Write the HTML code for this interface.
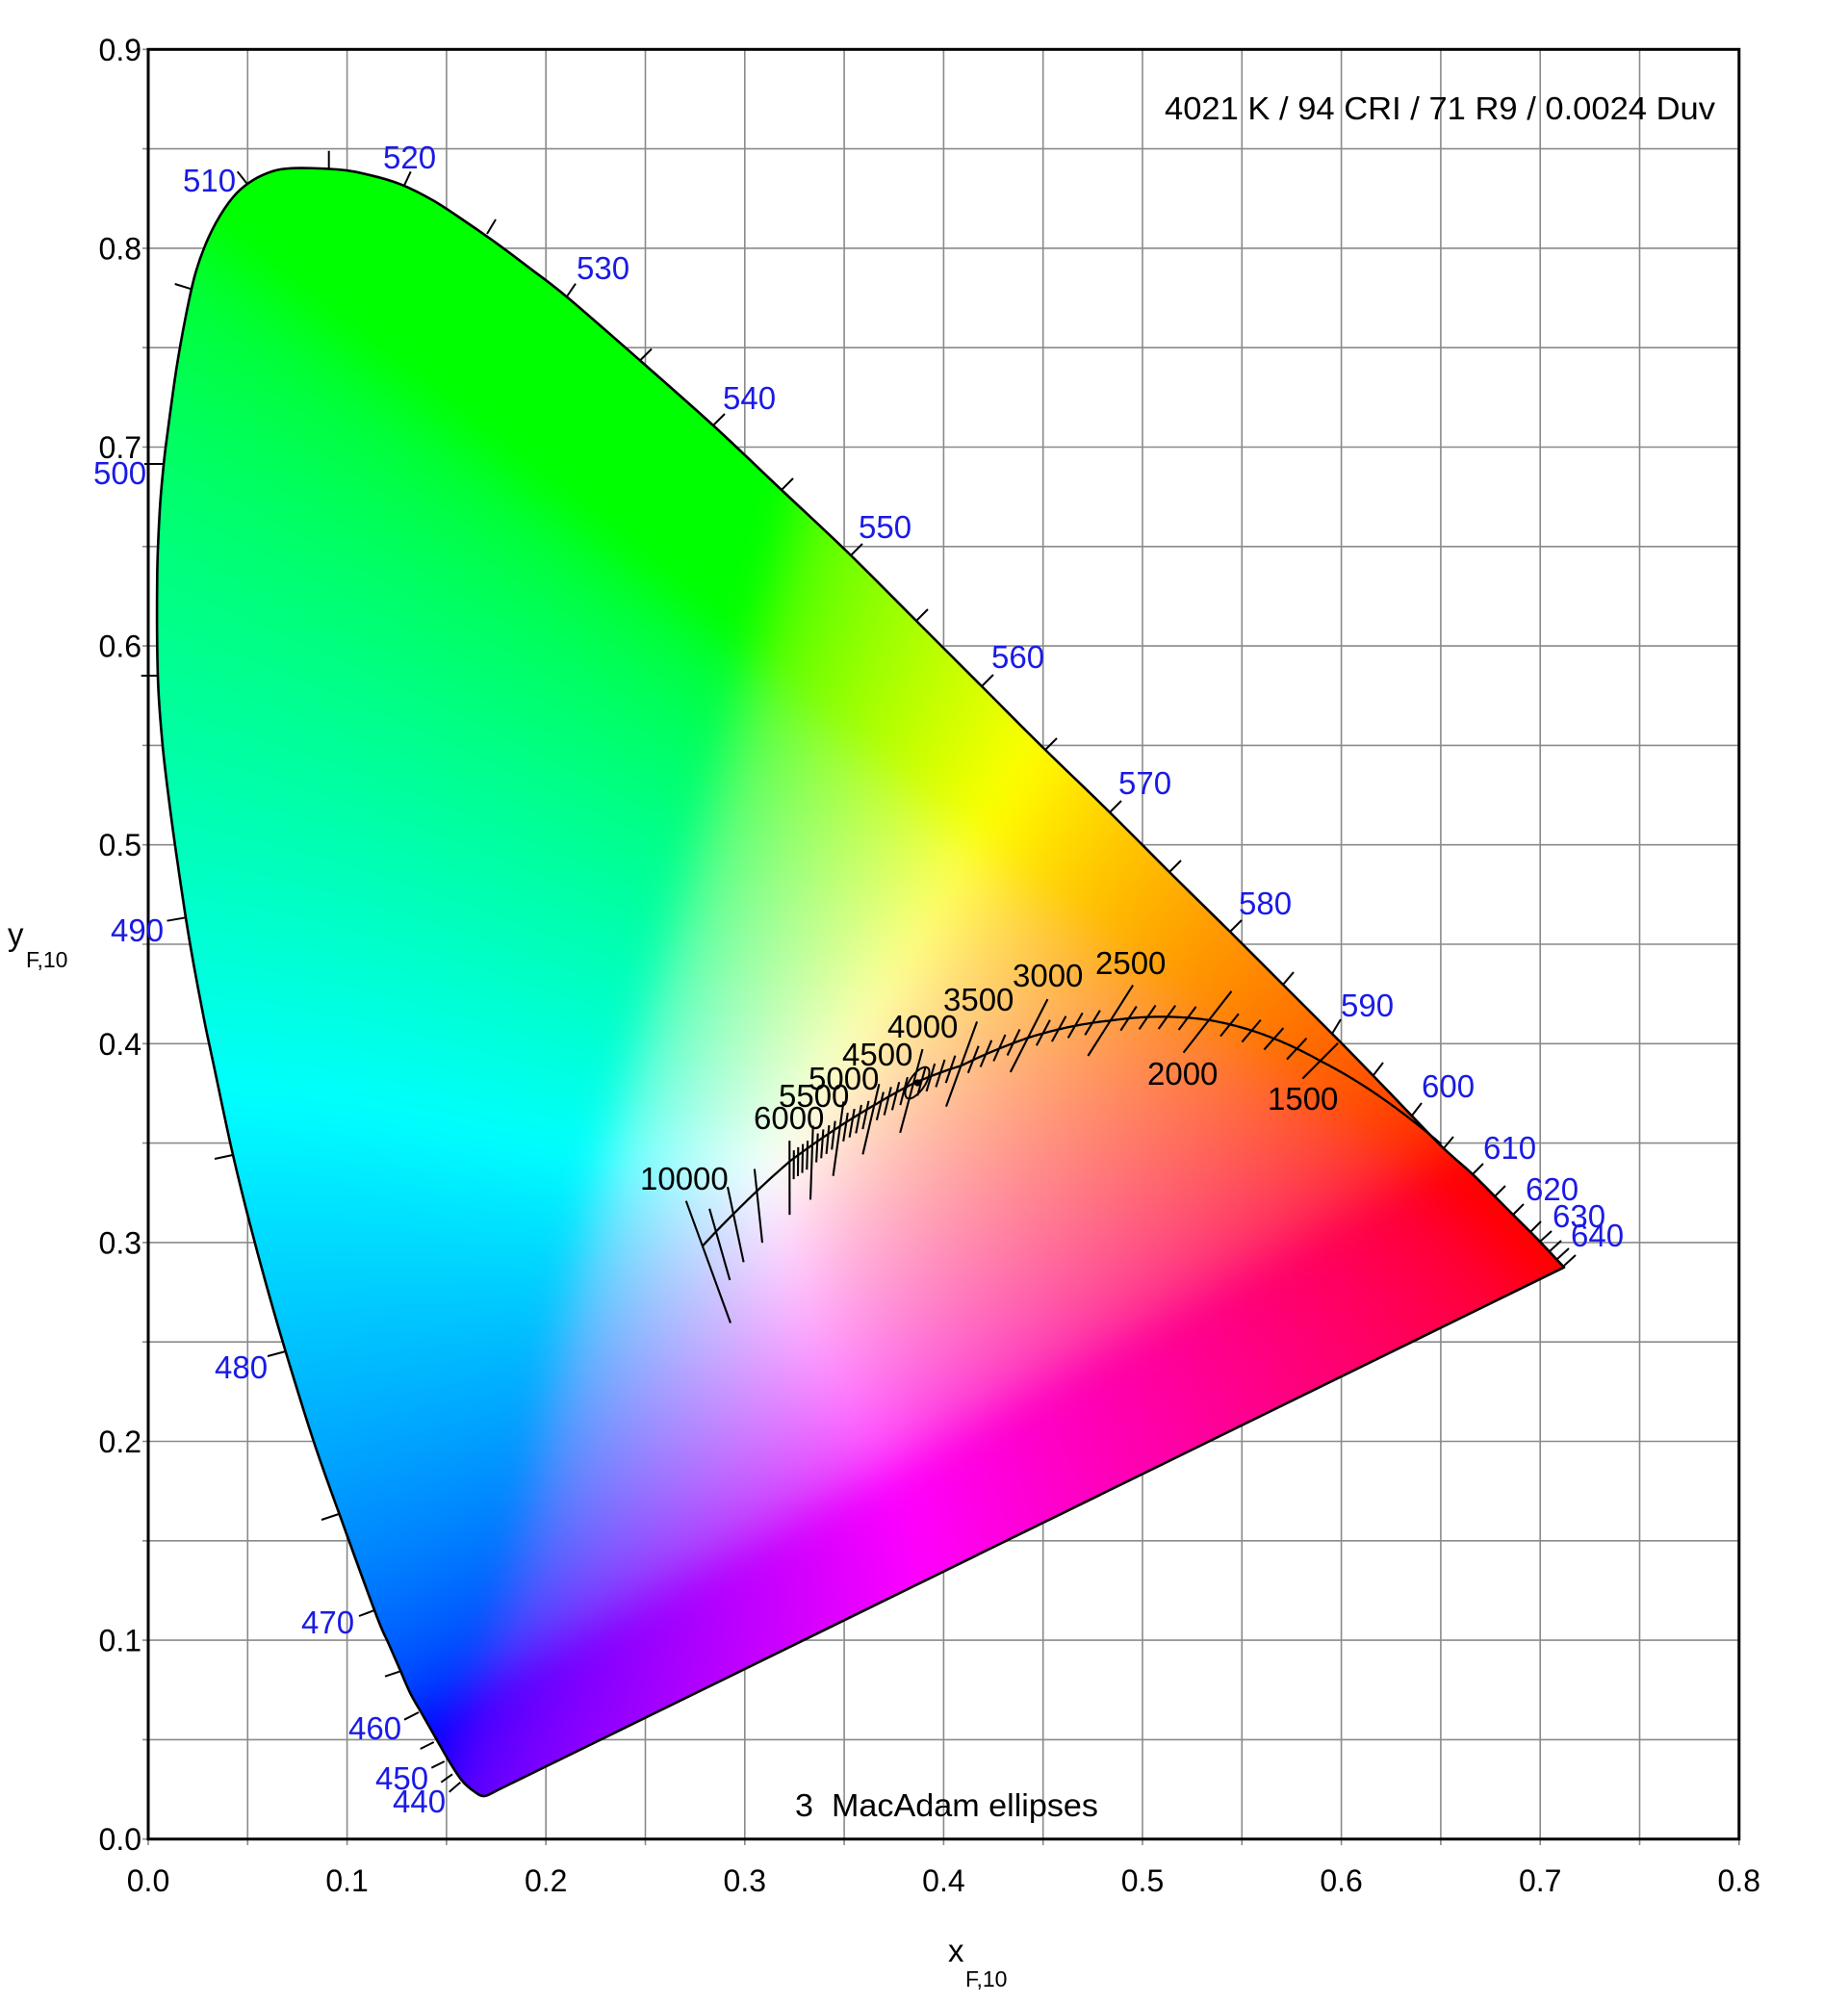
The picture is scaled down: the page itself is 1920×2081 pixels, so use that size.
<!DOCTYPE html>
<html><head><meta charset="utf-8">
<style>
html,body{margin:0;padding:0;background:#fff;}
body{width:1920px;height:2081px;position:relative;overflow:hidden;}
svg,canvas{position:absolute;left:0;top:0;}
text{font-family:"Liberation Sans",Arial,sans-serif;}
.bl{fill:#1a1ae6;font-size:33px;}
.bk{fill:#000;font-size:33px;}
.tk{fill:#000;font-size:32px;}
</style></head>
<body>
<svg id="bg" width="1920" height="2081" viewBox="0 0 1920 2081">
<defs>
<clipPath id="cp"><polygon points="516.7,1860 503.3,1866 493.3,1861.7 480,1850 466.7,1830 453.3,1806.7 440,1783.3 426.7,1760 415,1733.3 403.3,1706.7 391.7,1680 358,1588 326.7,1500 296.7,1404 276.7,1335 256.7,1260 240,1191 221.7,1105 212,1059 201.2,1002 192.9,953 181.7,877 175.4,830 168.7,772 164,703 163.3,600 166,530 170,483 174,450 183.3,383 193.3,327 203.3,283 216.7,246.7 233.3,216.7 250,196.7 273.3,181.7 300,175 350,176 383.3,181.7 416.7,191.7 450,208.3 483.3,230 516.7,253.3 550,278.3 589,308.5 665,374.5 741,442 812,509 884,577 952,645 1020,713 1086,779 1153,844 1215,906 1278,968 1333,1023 1393.3,1083.3 1445,1136.5 1496.7,1190 1530,1220 1563,1253 1596.7,1286.7 1625,1316.7"/></clipPath>
<radialGradient id="gG" gradientUnits="userSpaceOnUse" cx="330" cy="420" r="850"><stop offset="0" stop-color="#00ff10"/><stop offset="0.55" stop-color="#00ff10" stop-opacity="0.6"/><stop offset="1" stop-color="#00ff10" stop-opacity="0"/></radialGradient>
<radialGradient id="gB" gradientUnits="userSpaceOnUse" cx="505" cy="1866" r="750"><stop offset="0" stop-color="#0000ff"/><stop offset="0.5" stop-color="#2050ff" stop-opacity="0.7"/><stop offset="1" stop-color="#4080ff" stop-opacity="0"/></radialGradient>
<radialGradient id="gR" gradientUnits="userSpaceOnUse" cx="1625" cy="1317" r="720"><stop offset="0" stop-color="#ff0000"/><stop offset="0.5" stop-color="#ff3030" stop-opacity="0.7"/><stop offset="1" stop-color="#ff6060" stop-opacity="0"/></radialGradient>
<radialGradient id="gC" gradientUnits="userSpaceOnUse" cx="180" cy="1080" r="380"><stop offset="0" stop-color="#00ffff"/><stop offset="1" stop-color="#00ffff" stop-opacity="0"/></radialGradient>
<radialGradient id="gY" gradientUnits="userSpaceOnUse" cx="1150" cy="830" r="320"><stop offset="0" stop-color="#ffff20"/><stop offset="1" stop-color="#ffff20" stop-opacity="0"/></radialGradient>
<radialGradient id="gM" gradientUnits="userSpaceOnUse" cx="1000" cy="1650" r="380"><stop offset="0" stop-color="#ff40ff"/><stop offset="1" stop-color="#ff40ff" stop-opacity="0"/></radialGradient>
<radialGradient id="gW" gradientUnits="userSpaceOnUse" cx="830" cy="1230" r="240"><stop offset="0" stop-color="#ffffff"/><stop offset="1" stop-color="#ffffff" stop-opacity="0"/></radialGradient>
</defs>
<g stroke="#8a8a8a" stroke-width="1.6">
<line x1="154" y1="51.3" x2="154" y2="1917"/>
<line x1="257.3" y1="51.3" x2="257.3" y2="1917"/>
<line x1="360.6" y1="51.3" x2="360.6" y2="1917"/>
<line x1="463.9" y1="51.3" x2="463.9" y2="1917"/>
<line x1="567.2" y1="51.3" x2="567.2" y2="1917"/>
<line x1="670.5" y1="51.3" x2="670.5" y2="1917"/>
<line x1="773.8" y1="51.3" x2="773.8" y2="1917"/>
<line x1="877.1" y1="51.3" x2="877.1" y2="1917"/>
<line x1="980.4" y1="51.3" x2="980.4" y2="1917"/>
<line x1="1083.7" y1="51.3" x2="1083.7" y2="1917"/>
<line x1="1187" y1="51.3" x2="1187" y2="1917"/>
<line x1="1290.3" y1="51.3" x2="1290.3" y2="1917"/>
<line x1="1393.6" y1="51.3" x2="1393.6" y2="1917"/>
<line x1="1496.9" y1="51.3" x2="1496.9" y2="1917"/>
<line x1="1600.2" y1="51.3" x2="1600.2" y2="1917"/>
<line x1="1703.5" y1="51.3" x2="1703.5" y2="1917"/>
<line x1="1806.8" y1="51.3" x2="1806.8" y2="1917"/>
<line x1="148" y1="1910.7" x2="1806.8" y2="1910.7"/>
<line x1="148" y1="1807.4" x2="1806.8" y2="1807.4"/>
<line x1="148" y1="1704.1" x2="1806.8" y2="1704.1"/>
<line x1="148" y1="1600.8" x2="1806.8" y2="1600.8"/>
<line x1="148" y1="1497.5" x2="1806.8" y2="1497.5"/>
<line x1="148" y1="1394.2" x2="1806.8" y2="1394.2"/>
<line x1="148" y1="1290.9" x2="1806.8" y2="1290.9"/>
<line x1="148" y1="1187.6" x2="1806.8" y2="1187.6"/>
<line x1="148" y1="1084.3" x2="1806.8" y2="1084.3"/>
<line x1="148" y1="981" x2="1806.8" y2="981"/>
<line x1="148" y1="877.7" x2="1806.8" y2="877.7"/>
<line x1="148" y1="774.4" x2="1806.8" y2="774.4"/>
<line x1="148" y1="671.1" x2="1806.8" y2="671.1"/>
<line x1="148" y1="567.8" x2="1806.8" y2="567.8"/>
<line x1="148" y1="464.5" x2="1806.8" y2="464.5"/>
<line x1="148" y1="361.2" x2="1806.8" y2="361.2"/>
<line x1="148" y1="257.9" x2="1806.8" y2="257.9"/>
<line x1="148" y1="154.6" x2="1806.8" y2="154.6"/>
<line x1="148" y1="51.3" x2="1806.8" y2="51.3"/>
</g>
<g id="fb" clip-path="url(#cp)">
<rect x="140" y="150" width="1520" height="1750" fill="#ffffff"/>
<rect x="140" y="150" width="1520" height="1750" fill="url(#gG)"/>
<rect x="140" y="150" width="1520" height="1750" fill="url(#gB)"/>
<rect x="140" y="150" width="1520" height="1750" fill="url(#gR)"/>
<rect x="140" y="150" width="1520" height="1750" fill="url(#gC)"/>
<rect x="140" y="150" width="1520" height="1750" fill="url(#gY)"/>
<rect x="140" y="150" width="1520" height="1750" fill="url(#gM)"/>
<rect x="140" y="150" width="1520" height="1750" fill="url(#gW)"/>
</g>
</svg>
<canvas id="cv" width="1920" height="2081" style="width:1920px;height:2081px"></canvas>
<svg id="fg" width="1920" height="2081" viewBox="0 0 1920 2081">
<rect x="154" y="51.3" width="1652.8" height="1859.4" fill="none" stroke="#000" stroke-width="3"/>
<polygon id="loc" fill="none" stroke="#000" stroke-width="2.6" stroke-linejoin="round" points="516.7,1860 503.3,1866 493.3,1861.7 480,1850 466.7,1830 453.3,1806.7 440,1783.3 426.7,1760 415,1733.3 403.3,1706.7 391.7,1680 358,1588 326.7,1500 296.7,1404 276.7,1335 256.7,1260 240,1191 221.7,1105 212,1059 201.2,1002 192.9,953 181.7,877 175.4,830 168.7,772 164,703 163.3,600 166,530 170,483 174,450 183.3,383 193.3,327 203.3,283 216.7,246.7 233.3,216.7 250,196.7 273.3,181.7 300,175 350,176 383.3,181.7 416.7,191.7 450,208.3 483.3,230 516.7,253.3 550,278.3 589,308.5 665,374.5 741,442 812,509 884,577 952,645 1020,713 1086,779 1153,844 1215,906 1278,968 1333,1023 1393.3,1083.3 1445,1136.5 1496.7,1190 1530,1220 1563,1253 1596.7,1286.7 1625,1316.7"/>
<path id="locs" fill="none" stroke="#000" stroke-width="2.6" stroke-linejoin="round" d=""/>
<path fill="none" stroke="#000" stroke-width="2" d="M478.3 1851.7L466.7 1861.7M470 1843.3L458.3 1851.7M461.7 1830L448.3 1836.7M450.7 1810L436.7 1817M435 1779L420 1786.7M415 1736.7L400 1741.7M389 1673L373 1679M352 1573L334 1579M296.7 1404L278 1409M241.7 1200L223 1204M192.9 953.3L173.5 956.7M164 702L146.7 702M170 482L150 482M200 300.7L181.7 295M257.3 191.7L246.7 178.3M341.7 175L341.7 156.7M420 192.7L426.7 178.3M506 243L515 228M589 308L598 294.7M665 374.5L677 362.5M741 442L753 430M812 509L824 497M884 577L896 565M952 645L964 633M1020 713L1032 701M1086 779L1098 767M1153 844L1165 832M1215 906L1227 894M1278 968L1290 956M1333 1023L1344 1010M1384 1074L1393 1059M1427 1117L1437 1104M1467 1159L1477 1146M1500 1193L1510 1181M1530 1220L1541 1209M1553 1243L1564 1232M1572 1262L1583 1251M1590 1280L1601 1269M1600 1290L1612 1279M1610 1300L1622 1289M1618 1308L1630 1297M1625 1315L1637 1304"/>
<polyline id="plf" fill="none" stroke="#000" stroke-width="2.3" points="730,1295 760,1267 787,1238 817,1210 850,1183 883,1163 917,1143 953,1123 983,1113 1017,1098 1050,1087 1083,1075 1117,1067 1157,1060 1200,1058 1250,1060 1283,1065 1317,1075 1350,1088 1383,1107 1417,1130 1450,1153 1497,1188"/>
<g id="pl"></g>
<ellipse cx="953" cy="1125" rx="19" ry="8" transform="rotate(-56 953 1125)" fill="none" stroke="#000" stroke-width="2"/>
<circle cx="953.3" cy="1125" r="3.6" fill="#000"/>
<!-- wavelength labels -->
<text class="bl" x="408" y="1883">440</text>
<text class="bl" x="390" y="1859">450</text>
<text class="bl" x="362" y="1807">460</text>
<text class="bl" x="313" y="1697">470</text>
<text class="bl" x="223" y="1432">480</text>
<text class="bl" x="115" y="978">490</text>
<text class="bl" x="97" y="503">500</text>
<text class="bl" x="190" y="199">510</text>
<text class="bl" x="398" y="175">520</text>
<text class="bl" x="599" y="290">530</text>
<text class="bl" x="751" y="425">540</text>
<text class="bl" x="892" y="559">550</text>
<text class="bl" x="1030" y="694">560</text>
<text class="bl" x="1162" y="825">570</text>
<text class="bl" x="1287" y="950">580</text>
<text class="bl" x="1393" y="1056">590</text>
<text class="bl" x="1477" y="1140">600</text>
<text class="bl" x="1541" y="1204">610</text>
<text class="bl" x="1585" y="1247">620</text>
<text class="bl" x="1613" y="1275">630</text>
<text class="bl" x="1632" y="1295">640</text>
<!-- CCT labels -->
<text class="bk" x="665" y="1236">10000</text>
<text class="bk" x="783" y="1173">6000</text>
<text class="bk" x="809" y="1150">5500</text>
<text class="bk" x="840" y="1132">5000</text>
<text class="bk" x="875" y="1107">4500</text>
<text class="bk" x="922" y="1078">4000</text>
<text class="bk" x="980" y="1050">3500</text>
<text class="bk" x="1052" y="1025">3000</text>
<text class="bk" x="1138" y="1012">2500</text>
<text class="bk" x="1192" y="1127">2000</text>
<text class="bk" x="1317" y="1153">1500</text>
<!-- annotations -->
<text class="bk" x="1210" y="124" textLength="572" lengthAdjust="spacingAndGlyphs">4021 K / 94 CRI / 71 R9 / 0.0024 Duv</text>
<text class="bk" x="826" y="1887" textLength="315" lengthAdjust="spacingAndGlyphs" xml:space="preserve" style="white-space:pre">3  MacAdam ellipses</text>
<!-- y tick labels -->
<g text-anchor="end">
<text class="tk" x="147" y="1922">0.0</text>
<text class="tk" x="147" y="1715.6">0.1</text>
<text class="tk" x="147" y="1509">0.2</text>
<text class="tk" x="147" y="1302.4">0.3</text>
<text class="tk" x="147" y="1095.8">0.4</text>
<text class="tk" x="147" y="889.2">0.5</text>
<text class="tk" x="147" y="682.6">0.6</text>
<text class="tk" x="147" y="476">0.7</text>
<text class="tk" x="147" y="269.4">0.8</text>
<text class="tk" x="147" y="62.8">0.9</text>
</g>
<g text-anchor="middle">
<text class="tk" x="154" y="1965">0.0</text>
<text class="tk" x="360.6" y="1965">0.1</text>
<text class="tk" x="567.2" y="1965">0.2</text>
<text class="tk" x="773.8" y="1965">0.3</text>
<text class="tk" x="980.4" y="1965">0.4</text>
<text class="tk" x="1187" y="1965">0.5</text>
<text class="tk" x="1393.6" y="1965">0.6</text>
<text class="tk" x="1600.2" y="1965">0.7</text>
<text class="tk" x="1806.8" y="1965">0.8</text>
</g>
<!-- axis titles -->
<text x="8" y="982" style="font-size:33px" fill="#000">y</text>
<text x="27" y="1005" style="font-size:23px" fill="#000">F,10</text>
<text x="985" y="2038" style="font-size:33px" fill="#000">x</text>
<text x="1003" y="2064" style="font-size:23px" fill="#000">F,10</text>
</svg>
<script>
(function(){
var pts=[[516.7,1860],[503.3,1866],[493.3,1861.7],[480,1850],[466.7,1830],[453.3,1806.7],[440,1783.3],[426.7,1760],[415,1733.3],[403.3,1706.7],[391.7,1680],[358,1588],[326.7,1500],[296.7,1404],[276.7,1335],[256.7,1260],[240,1191],[221.7,1105],[212,1059],[201.2,1002],[192.9,953],[181.7,877],[175.4,830],[168.7,772],[164,703],[163.3,600],[166,530],[170,483],[174,450],[183.3,383],[193.3,327],[203.3,283],[216.7,246.7],[233.3,216.7],[250,196.7],[273.3,181.7],[300,175],[350,176],[383.3,181.7],[416.7,191.7],[450,208.3],[483.3,230],[516.7,253.3],[550,278.3],[589,308.5],[665,374.5],[741,442],[812,509],[884,577],[952,645],[1020,713],[1086,779],[1153,844],[1215,906],[1278,968],[1333,1023],[1393.3,1083.3],[1445,1136.5],[1496.7,1190],[1530,1220],[1563,1253],[1596.7,1286.7],[1625,1316.7]];
function f1(v){return v.toFixed(1);}
var sd='M'+pts[0][0]+' '+pts[0][1];
for(var i=0;i<pts.length-1;i++){
 var p0=pts[Math.max(i-1,0)],p1=pts[i],p2=pts[i+1],p3=pts[Math.min(i+2,pts.length-1)];
 sd+='C'+f1(p1[0]+(p2[0]-p0[0])/6)+' '+f1(p1[1]+(p2[1]-p0[1])/6)+' '+f1(p2[0]-(p3[0]-p1[0])/6)+' '+f1(p2[1]-(p3[1]-p1[1])/6)+' '+p2[0]+' '+p2[1];
}
sd+='Z';
try{
 document.getElementById('locs').setAttribute('d',sd);
 document.getElementById('loc').style.display='none';
}catch(e){}
try{
var X0=40,Y0=40,X1=1760,Y1=1990,w=X1-X0,h=Y1-Y0;
var off=document.createElement('canvas');off.width=w;off.height=h;var oc=off.getContext('2d');
var im=oc.createImageData(w,h);var d=im.data;
var lut=new Uint8ClampedArray(4097);
for(var i=0;i<=4096;i++){var c=i/4096;lut[i]=Math.round(255*(c<=0.0031308?12.92*c:1.055*Math.pow(c,1/2.4)-0.055));}
var A0x=0.171,A0y=0.0213,A1x=0.712,A1y=0.2875;
var ldx=A1x-A0x,ldy=A1y-A0y,ll=Math.sqrt(ldx*ldx+ldy*ldy),ux=ldx/ll,uy=ldy/ll;
var k=0;
for(var j=0;j<h;j++){
 var yy0=(1910.7-(Y0+j+0.5))/2066;
 for(var ii=0;ii<w;ii++){
  var xx=(X0+ii+0.5-154)/2066, yy=yy0;
  var sx=xx, sy=yy;
  var t=((xx-A0x)*ux+(yy-A0y)*uy)/ll;
  if(t>0&&t<1){
   var dp=(xx-A0x)*(-uy)+(yy-A0y)*ux; if(dp<0)dp=0;
   var s=0.075*Math.sin(Math.PI*t)*Math.exp(-(dp/0.12)*(dp/0.12));
   sx-=s*ux; sy-=s*uy;
  }
  var ax=(xx-0.02)/0.2, ay=(yy-0.38)/0.18;
  sy-=0.045*Math.exp(-ax*ax-ay*ay);
  if(sy<0.002)sy=0.002;
  var X=sx/sy,Z=(1-sx-sy)/sy;
  var r=3.2406*X-1.5372-0.4986*Z,g=-0.9689*X+1.8758+0.0415*Z,b=0.0557*X-0.2040+1.0570*Z;
  if(r<0)r=0;if(g<0)g=0;if(b<0)b=0;
  var m=r>g?r:g; if(b>m)m=b; if(m<=0)m=1;
  d[k]=lut[(r/m*4096)|0];d[k+1]=lut[(g/m*4096)|0];d[k+2]=lut[(b/m*4096)|0];d[k+3]=255;k+=4;
 }
}
oc.putImageData(im,0,0);
var bl=document.createElement('canvas');bl.width=w;bl.height=h;var bc=bl.getContext('2d');
try{bc.filter='blur(20px)';}catch(e){}
bc.drawImage(off,0,0);
var cv=document.getElementById('cv');var ctx=cv.getContext('2d');
ctx.save();
var clipP;
try{clipP=new Path2D(sd);ctx.clip(clipP);}catch(e){
 ctx.beginPath();pts.forEach(function(p,i){if(i)ctx.lineTo(p[0],p[1]);else ctx.moveTo(p[0],p[1]);});ctx.closePath();ctx.clip();
}
ctx.drawImage(bl,X0,Y0);
ctx.restore();
document.getElementById('fb').style.display='none';
}catch(e){}
try{
var OFF=[[100,-4,-20],[111,-3,-20],[125,-2,-19.5],[167,1,-19],[200,6,-15],[222,9,-12],[250,9,-7],[286,7,4],[333,11,3],[400,14,5],[500,14,3],[667,8,3],[1000,-6,-10]];
var TH=[[100,20],[111,16],[125,12],[143,6],[167,0],[182,-2],[200,-8],[222,-13],[250,-15],[286,-20],[333,-27],[400,-32.5],[500,-38],[667,-45],[1000,-45]];
var LEN=[[100,135],[111,77],[125,80],[143,77],[167,77],[182,77],[200,78],[222,75],[250,90],[286,94],[333,85],[400,87],[500,81],[667,52],[1000,52]];
var FR=[[100,.37],[111,.32],[125,.36],[143,.30],[167,.28],[182,.26],[200,.33],[222,.30],[250,.41],[286,.52],[333,.53],[400,.5],[500,.47],[667,.5],[1000,.5]];
function lerp(t,M,c){if(M<=t[0][0])return t[0][c];for(var i=1;i<t.length;i++){if(M<=t[i][0]){var a=t[i-1],b=t[i];var q=(M-a[0])/(b[0]-a[0]);return a[c]+(b[c]-a[c])*q;}}return t[t.length-1][c];}
function P(T){
 var u=(0.860117757+1.54118254e-4*T+1.28641212e-7*T*T)/(1+8.42420235e-4*T+7.08145163e-7*T*T);
 var v=(0.317398726+4.22806245e-5*T+4.20481691e-8*T*T)/(1-2.89741816e-5*T+1.61456053e-7*T*T);
 var dd=2*u-8*v+4;var x=3*u/dd,y=2*v/dd;var M=1e6/T;
 return [154+2066*x+lerp(OFF,M,1),1910.7-2066*y+lerp(OFF,M,2)];
}
var NS='http://www.w3.org/2000/svg';var g=document.getElementById('pl');
var s='';
for(var M=100;M<=1000.001;M+=2){var p=P(1e6/M);s+=(M===100?'M':'L')+p[0].toFixed(1)+' '+p[1].toFixed(1);}
var pe=document.createElementNS(NS,'path');pe.setAttribute('d',s);pe.setAttribute('fill','none');pe.setAttribute('stroke','#000');pe.setAttribute('stroke-width','2.3');g.appendChild(pe);
var Ts=[10000,9000,8000,7000];for(var T=6000;T>=1500;T-=100)Ts.push(T);
var t2='';
Ts.forEach(function(T){
 var M=1e6/T;var p=P(T);var th=lerp(TH,M,1)*Math.PI/180;
 var isL=(T>6000)||(T%500===0);
 var L=isL?lerp(LEN,M,1):30;var f=lerp(FR,M,1);
 var dx=Math.sin(th),dy=Math.cos(th);
 t2+='M'+(p[0]-dx*L*f).toFixed(1)+' '+(p[1]-dy*L*f).toFixed(1)+'L'+(p[0]+dx*L*(1-f)).toFixed(1)+' '+(p[1]+dy*L*(1-f)).toFixed(1);
});
var te=document.createElementNS(NS,'path');te.setAttribute('d',t2);te.setAttribute('fill','none');te.setAttribute('stroke','#000');te.setAttribute('stroke-width','2.1');g.appendChild(te);
var f0=document.getElementById('plf');f0.parentNode.removeChild(f0);
}catch(e){}
})();
</script>
</body></html>
